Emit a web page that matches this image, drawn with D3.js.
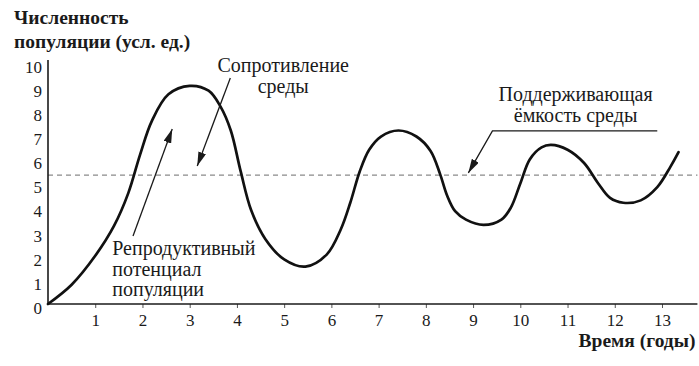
<!DOCTYPE html>
<html><head><meta charset="utf-8">
<script src="https://cdn.jsdelivr.net/npm/d3@7"></script>
<style>
html,body{margin:0;padding:0;background:#fff;}
svg{display:block;}
</style></head>
<body><svg id="c" width="699" height="366"></svg>
<script>
// --- data ---
const years = [0,0.5,1.0,1.4,1.7,1.95,2.2,2.55,3.0,3.4,3.65,3.87,4.08,4.3,4.6,5.0,5.45,5.9,6.2,6.4,6.6,6.8,7.05,7.42,7.8,8.1,8.3,8.45,8.62,8.85,9.22,9.6,9.8,10.0,10.2,10.45,10.65,11.0,11.35,11.65,11.9,12.18,12.55,12.9,13.18,13.35];
const population = [0,0.8,2.0,3.25,4.6,6.2,7.6,8.7,9.05,8.85,8.2,7.2,5.5,3.9,2.7,1.85,1.55,2.05,3.1,4.2,5.5,6.4,6.95,7.2,6.95,6.35,5.4,4.5,3.85,3.5,3.28,3.5,4.0,5.0,6.0,6.5,6.6,6.4,5.85,5.0,4.4,4.2,4.3,4.85,5.7,6.3];
const carryingCapacity = 5.35;
const xTicks = [1,2,3,4,5,6,7,8,9,10,11,12,13];
const yTicks = [0,1,2,3,4,5,6,7,8,9,10];
const yTitle = ["Численность","популяции (усл. ед.)"];
const xTitle = "Время (годы)";
// annotation anchors in data units [year, population]
const arrowReproductive = [[1.80,2.82],[2.63,7.26]];
const arrowResistance = [[3.86,9.38],[3.16,5.73]];
const arrowCapacity = [[12.9,7.18],[9.41,7.18],[8.9,5.44]];
const labelResistance = {at:[4.98,9.62], lines:["Сопротивление","среды"]};
const labelCapacity = {at:[11.17,8.42], lines:["Поддерживающая","ёмкость среды"]};
const labelReproductive = {at:[1.36,2.03], lines:["Репродуктивный","потенциал","популяции"]};

const FONT = '"Liberation Serif"';
const svg = d3.select("#c");
const x = d3.scaleLinear().domain([0,13]).range([48,662]);
const y = d3.scaleLinear().domain([0,10]).range([304,63]);
const xMax = 13.75;
const ink = "#1a1a1a";

function styleText(sel, size, weight){
  sel.style("font-family",FONT).style("font-weight",weight).style("font-size",size+"px").attr("fill",ink);
}

svg.append("defs").append("marker")
  .attr("id","ah").attr("viewBox","0 0 14 8").attr("refX",14).attr("refY",4)
  .attr("markerWidth",14).attr("markerHeight",8).attr("markerUnits","userSpaceOnUse")
  .attr("orient","auto")
  .append("path").attr("d","M0,0 L14,4 L0,8 Z").attr("fill",ink);

svg.append("line")
  .attr("x1",x(0)).attr("x2",x(xMax)).attr("y1",y(carryingCapacity)).attr("y2",y(carryingCapacity))
  .attr("stroke","#8a8a8a").attr("stroke-width",1.2).attr("stroke-dasharray","5,4");

// titles
function title(txt,xx,yy,anchor){
  svg.append("text").attr("x",xx).attr("y",yy).attr("text-anchor",anchor)
    .call(styleText,19.5,"bold").text(txt);
}
title(yTitle[0],14,24,"start");
title(yTitle[1],14,48,"start");
title(xTitle,x(xMax)-2,347,"end");

// labels
function label(l, anchor, lh){
  l.lines.forEach((s,i)=>svg.append("text")
    .attr("x",x(l.at[0])).attr("y",y(l.at[1])+i*lh).attr("text-anchor",anchor)
    .call(styleText,20,"normal").text(s));
}
label(labelResistance,"middle",20.5);
label(labelCapacity,"middle",20.5);
label(labelReproductive,"start",20.5);

// axes
const xAxis = svg.append("g").attr("transform",`translate(0,${y(0)})`)
  .call(d3.axisBottom(x).tickValues(xTicks).tickSize(4).tickSizeOuter(0).tickPadding(6));
xAxis.attr("font-family",null).attr("font-size",null);
xAxis.select(".domain").remove();
xAxis.append("line").attr("x1",x(0)).attr("x2",x(xMax)).attr("stroke",ink).attr("stroke-width",1.6);
xAxis.selectAll(".tick line").attr("stroke","#555");
xAxis.selectAll(".tick text").call(styleText,17,"normal");

const yAxis = svg.append("g").attr("transform",`translate(${x(0)},0)`)
  .call(d3.axisLeft(y).tickValues(yTicks).tickSize(0).tickPadding(6));
yAxis.attr("font-family",null).attr("font-size",null);
yAxis.select(".domain").remove();
yAxis.append("line").attr("y1",y(0)).attr("y2",y(10.12)).attr("stroke",ink).attr("stroke-width",1.6);
yAxis.selectAll(".tick text").call(styleText,17,"normal").attr("dy","0.55em");

// curve
const line = d3.line().x((d,i)=>x(years[i])).y(d=>y(d)).curve(d3.curveCatmullRom.alpha(0.5));
svg.append("path").datum(population).attr("d",line).attr("fill","none").attr("stroke","#111").attr("stroke-width",2.7).attr("stroke-linecap","round");

// arrows
const aLine = d3.line().x(d=>x(d[0])).y(d=>y(d[1]));
[arrowReproductive,arrowResistance,arrowCapacity].forEach(a=>{
  svg.append("path").attr("d",aLine(a)).attr("fill","none").attr("stroke",ink).attr("stroke-width",1.3).attr("marker-end","url(#ah)");
});
</script></body></html>
